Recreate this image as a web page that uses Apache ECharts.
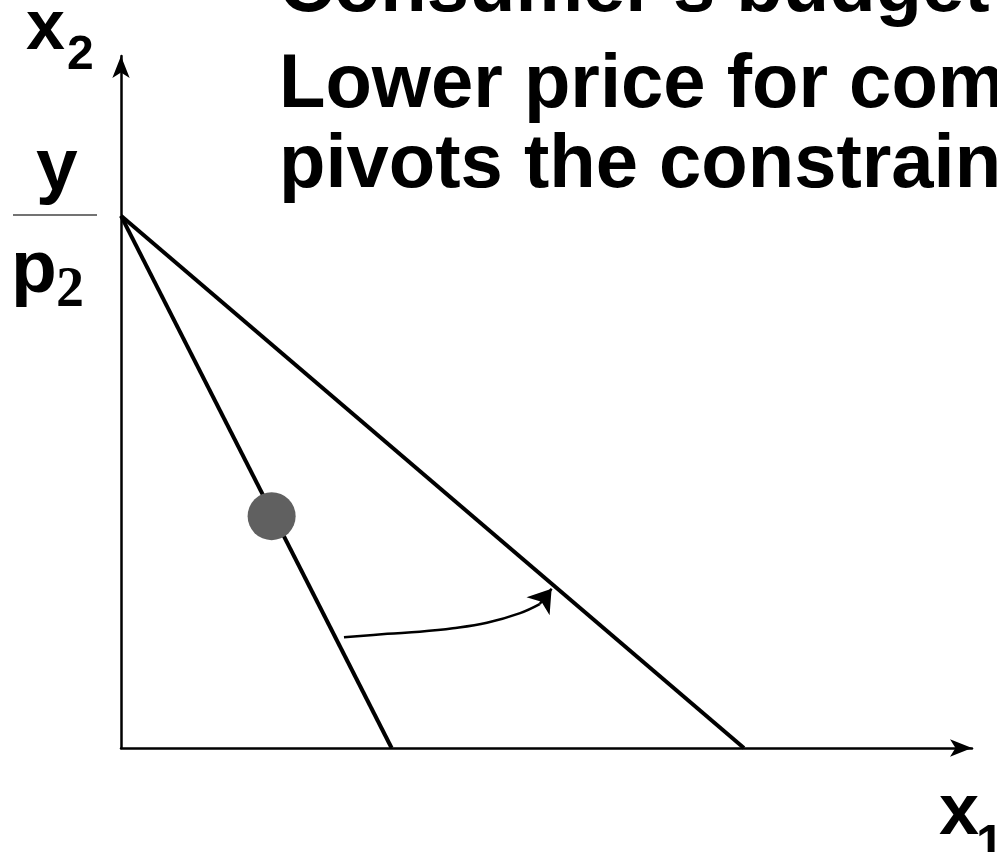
<!DOCTYPE html>
<html>
<head>
<meta charset="utf-8">
<script src="https://cdn.jsdelivr.net/npm/echarts@6/dist/echarts.min.js"></script>
<style>
html,body{margin:0;padding:0;background:#fff;}
#chart{width:997px;height:852px;}
</style>
</head>
<body>
<div id="chart"></div>
<script>
// ---- data (arbitrary units, axes 0..100) ----
var axisMax = [100, 100];
var yIntercept = 76.9;           // y / p2
var xInterceptOld = 31.8;        // original budget line
var xInterceptNew = 73.2;        // after lower p1
var bundle = [17.7, 33.5];
var curveX = [26.2, 31.3, 35.1, 39.0, 43.0, 46.9, 49.2];
var curveY = [16.0, 16.5, 16.8, 17.3, 18.1, 19.5, 20.8];
var arrowFrom = [49.2, 20.8];
var arrowTo = [50.6, 23.0];
var titleLines = ["Consumer's budget set", "Lower price for commodity 1", "pivots the constraint outward"];

var curveData = curveX.map(function (x, i) { return [x, curveY[i]]; });

var chart = echarts.init(document.getElementById('chart'));
var F = '"Liberation Sans", Arial, sans-serif';
var option = {
  animation: false,
  backgroundColor: '#fff',
  grid: { left: 121, right: 25, top: 56, bottom: 104 },
  xAxis: {
    type: 'value', min: 0, max: axisMax[0],
    axisLine: { show: true, onZero: false, symbol: ['none', 'arrow'], symbolSize: [13, 22],
      lineStyle: { color: '#000', width: 2.5 } },
    axisTick: { show: false }, axisLabel: { show: false }, splitLine: { show: false }
  },
  yAxis: {
    type: 'value', min: 0, max: axisMax[1],
    axisLine: { show: true, onZero: false, symbol: ['none', 'arrow'], symbolSize: [13, 22],
      lineStyle: { color: '#000', width: 2.5 } },
    axisTick: { show: false }, axisLabel: { show: false }, splitLine: { show: false }
  },
  series: [
    { type: 'line', data: [[0, yIntercept], [xInterceptOld, 0]], showSymbol: false, symbol: 'none',
      lineStyle: { color: '#000', width: 4 }, clip: false, z: 3 },
    { type: 'line', data: [[0, yIntercept], [xInterceptNew, 0]], showSymbol: false, symbol: 'none',
      lineStyle: { color: '#000', width: 4 }, clip: false, z: 3 },
    { type: 'line', data: curveData, smooth: 0.4, showSymbol: false, symbol: 'none',
      lineStyle: { color: '#000', width: 2.5 }, z: 4 },
    { type: 'lines', coordinateSystem: 'cartesian2d', symbol: ['none', 'arrow'], symbolSize: [12, 22],
      lineStyle: { color: '#000', width: 2.5, opacity: 1 }, z: 4,
      data: [{ coords: [arrowFrom, arrowTo] }] },
    { type: 'scatter', data: [bundle], symbolSize: 48, itemStyle: { color: '#606060', opacity: 1 }, z: 5 }
  ],
  graphic: [
    { type: 'text', style: { text: titleLines[0], x: 279, y: -10, font: 'bold 76px ' + F, fill: '#000', textVerticalAlign: 'middle' } },
    { type: 'text', style: { text: titleLines[1], x: 279, y: 86, font: 'bold 76px ' + F, fill: '#000', textVerticalAlign: 'middle' } },
    { type: 'text', style: { text: titleLines[2], x: 279, y: 166, font: 'bold 76px ' + F, fill: '#000', textVerticalAlign: 'middle' } },
    { type: 'text', style: { text: 'x', x: 26, y: 30, font: 'bold 70px ' + F, fill: '#000', textVerticalAlign: 'middle' } },
    { type: 'text', style: { text: '2', x: 67, y: 56, font: 'bold 48px ' + F, fill: '#000', textVerticalAlign: 'middle' } },
    { type: 'text', style: { text: 'y', x: 36, y: 169, font: 'bold 75px ' + F, fill: '#000', textVerticalAlign: 'middle' } },
    { type: 'line', shape: { x1: 13, y1: 215, x2: 97, y2: 215 }, style: { stroke: '#444', lineWidth: 1.5 } },
    { type: 'text', style: { text: 'p', x: 11, y: 271, font: 'bold 75px ' + F, fill: '#000', textVerticalAlign: 'middle' } },
    { type: 'text', style: { text: '2', x: 56, y: 292, font: 'bold 56px "Liberation Serif", "Times New Roman", serif', fill: '#000', textVerticalAlign: 'middle' } },
    { type: 'text', style: { text: 'x', x: 939, y: 814, font: 'bold 72px ' + F, fill: '#000', textVerticalAlign: 'middle' } },
    { type: 'text', style: { text: '1', x: 976, y: 846, font: 'bold 50px ' + F, fill: '#000', textVerticalAlign: 'middle' } }
  ]
};
chart.setOption(option);
</script>
</body>
</html>
